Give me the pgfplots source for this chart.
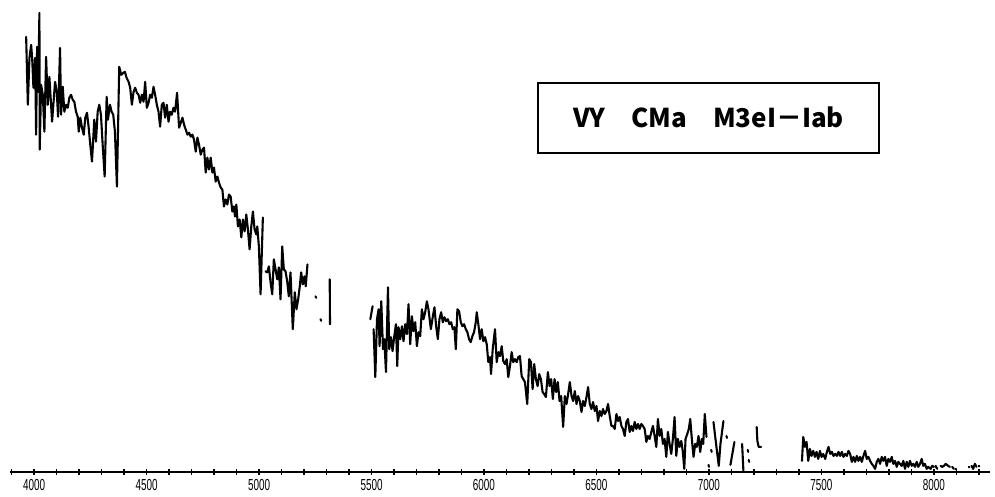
\documentclass[border=0pt]{standalone}
\usepackage{pgfplots}
\pgfplotsset{compat=1.18}
\usepackage{fontspec}
\setmainfont{Liberation Sans}
\newfontfamily\jp{Noto Sans CJK JP}
\begin{document}
\begin{tikzpicture}
\begin{axis}[
  scale only axis, width=497.5pt, height=245.5pt,
  xmin=3853.6, xmax=8266.5, ymin=-18, ymax=473,
  axis x line=middle, axis y line=none,
  x axis line style={-, line width=1.2pt, shorten <=4.5pt, shorten >=2pt},
  xtick={4000,4500,...,8000},
  minor xtick={3900,4000,...,8200},
  tick align=center,
  major tick length=3pt, minor tick length=3pt,
  every tick/.style={black, line width=0.7pt},
  /pgf/number format/assume math mode=true,
  /pgf/number format/1000 sep={},
  xticklabel style={font=\fontsize{8}{8}\selectfont, xscale=0.62, yshift=1.5pt},
  x filter/.expression={4000+(x-33)*4.435},
  y filter/.expression={473-y},
  clip=false,
  spec/.style={black, mark=none, line width=1.05pt, line join=round, line cap=round},
]
% segment A
\addplot[spec] coordinates {(25,37)(26.7,105)(28.3,58)(30,45)(31,58)(32.3,88)(34,58)(35,135)(36,47)(37,92)(38.3,13)(38.6,150)(40,85)(41.7,95)(43.3,132)(45,57)(46.7,105)(48.3,77)(51,122)(54,82)(55.7,92)(57,117)(59,48)(60,115)(61.7,87)(63.3,112)(65,105)(66.7,108)(68.3,98)(70,95)(71.7,100)(73.3,102)(75,112)(76.7,117)(77.7,132)(79.3,118)(81,128)(82.7,135)(84.3,118)(86,113)(87.7,128)(89,142)(91,162)(93.3,120)(95,142)(96.7,112)(98.3,105)(100,115)(101.7,145)(103.7,177)(105.7,97)(107,120)(109,105)(110.7,112)(112.3,115)(114,132)(116,187)(118.3,67)(120.3,75)(122.3,73)(124,72)(125.7,78)(127.7,82)(129.3,88)(131,105)(132.7,92)(134.3,88)(136,93)(137.7,95)(139.3,103)(141,95)(142.7,102)(144.3,82)(146,108)(147.7,103)(149.3,95)(151,98)(152.7,87)(154.3,95)(156,105)(157.7,112)(159.3,127)(161,105)(162.7,103)(164.3,118)(166,105)(167.7,122)(169.3,112)(171,115)(172.7,108)(174.3,112)(176.3,93)(178.3,128)(180,123)(181.7,118)(183.3,125)(185,130)(186.7,135)(188.3,133)(190,137)(191.7,135)(193.3,140)(195,152)(196.7,138)(198.3,145)(200,155)(201.7,150)(203.3,148)(205,173)(206.7,158)(208.3,170)(210,158)(211.7,173)(213.3,168)(215,182)(216.7,177)(218.3,183)(220,188)(221.7,190)(223.3,207)(225,200)(226.7,205)(228.3,195)(230,197)(231.7,212)(233.3,207)(234.3,217)(235.7,205)(237.3,227)(239,220)(240.7,238)(242.3,220)(244,232)(245.7,215)(247.3,230)(249,250)(250.7,227)(252.3,212)(254,230)(255.7,235)(256.7,227)(258.3,247)(260,295)(262.3,218)};
% segment B
\addplot[spec] coordinates {(265,272)(266.7,273)(268.3,267)(270,283)(271.7,295)(273.3,260)(275,270)(276.7,280)(278.3,268)(280,300)(281.7,247)(283.3,270)(285,272)(286.7,282)(288.3,297)(290,273)(292.3,330)(294.3,293)(296,310)(297.7,300)(299.3,287)(300.7,273)(302.3,285)(304,277)(305.3,287)(307,265)};
\addplot[spec] coordinates {(315,297)(315.8,298.5)};
\addplot[spec] coordinates {(320,320)(320.8,321.5)};
\addplot[spec] coordinates {(329.3,280)(329.6,325)};
\addplot[spec] coordinates {(370,320)(372.3,307)};
% segment E
\addplot[spec] coordinates {(373.3,330)(375,378)(376.7,320)(378.3,310)(379.3,347)(381,302)(382.7,350)(384,340)(385.7,373)(387.7,288)(389,350)(390.7,338)(392.3,352)(394,337)(395.7,325)(397,367)(398.3,328)(400,340)(401.7,327)(403.3,342)(405,325)(406.7,335)(408.3,305)(410,345)(411.7,317)(413.3,332)(415,323)(416.7,347)(418.3,333)(420,337)(421.7,310)(423.3,320)(425,313)(426.7,302)(428.3,310)(430.7,330)(432.7,317)(434.3,308)(436,327)(437.7,340)(439.3,320)(441,313)(442.7,323)(444.3,318)(446,322)(447.7,320)(449.3,325)(451,323)(452.7,330)(454.3,328)(455.7,350)(457.3,310)(459,312)(460.7,323)(462.3,327)(464,325)(465.7,330)(467.3,333)(469,340)(470.7,343)(472.3,337)(474,333)(475.7,323)(476.7,313)(478.3,325)(480,340)(481.7,330)(483.3,342)(485,338)(486.7,345)(488.3,363)(490,358)(491,375)(492.7,350)(495,330)(496.7,363)(498.3,353)(500,357)(501.7,347)(503.3,362)(505,365)(506.7,360)(508.3,378)(510,367)(511.7,353)(513.3,363)(515,360)(516.7,363)(518.3,358)(520,357)(521.7,377)(523.3,380)(525,383)(527.3,405)(529.3,360)(531,363)(532.7,390)(534.3,365)(536,380)(537.7,387)(539.3,375)(541,380)(542.7,393)(544.3,395)(546,398)(548,373)(549.7,387)(551.3,380)(553,400)(554.7,380)(556.3,393)(558,383)(559.7,402)(561.3,397)(563.3,428)(565,397)(566.7,405)(568.3,395)(570,383)(571.7,397)(573.3,402)(575,392)(576.7,405)(578.3,397)(580,402)(581.7,413)(583.3,402)(585,407)(586.7,398)(588.3,388)(590,405)(591.7,410)(593.3,403)(595,412)(596.7,407)(598.3,422)(600,412)(601.7,417)(603.3,410)(605,415)(606.7,412)(608.3,405)(610,417)(611.7,427)(613.3,427)(615,430)(616.7,415)(618.3,422)(620,418)(621.7,427)(623.3,430)(625,437)(626.7,423)(628.3,420)(630,433)(631.7,427)(633.3,432)(635,423)(636.7,430)(638.3,425)(640,430)(641.7,425)(643.3,427)(645,430)(646.7,443)(648.3,437)(650,440)(651.7,433)(653.3,427)(655,437)(656.7,448)(658.3,420)(660,437)(661.7,430)(663.3,445)(665,440)(666.7,458)(668.3,433)(670,445)(671.7,455)(673.3,440)(675,418)(676.7,457)(678.3,440)(680,448)(681.7,442)(683.3,453)(684.7,470)(686,440)(687.7,435)(689.3,430)(690.7,420)(692.3,440)(694,458)(695.7,445)(697.3,448)(699,437)(700.7,453)(702.3,440)(703.7,445)(705.3,415)(707,438)};
\addplot[spec] coordinates {(709,466)(709.5,468)};
\addplot[spec] coordinates {(711.7,451)(712.2,453)};
\addplot[spec] coordinates {(714,423)(716,440)(719.3,467)(721,445)(724,422)};
\addplot[spec] coordinates {(727,437)(727.5,439)};
\addplot[spec] coordinates {(731,466)(735,443)};
\addplot[spec] coordinates {(742.7,445)(744,472)};
\addplot[spec] coordinates {(748.3,451)(748.8,453)};
\addplot[spec] coordinates {(749.3,461)(749.8,463)};
\addplot[spec] coordinates {(757.3,428)(758,442)(759.3,448)(761.7,448)};
% segment J
\addplot[spec] coordinates {(802.7,462)(804,438)(805.7,448)(807.3,443)(809,462)(810.7,450)(812.3,457)(814,452)(815.7,458)(817.3,453)(819,460)(820.7,452)(822.3,458)(824,455)(826,460)(827.7,453)(829.3,448)(831,455)(832.7,453)(834.3,457)(836,455)(837.7,457)(839.3,453)(841,457)(842.7,453)(844.3,458)(846,455)(847.7,457)(849.3,452)(851,455)(852.7,463)(854.3,458)(856,463)(857.7,457)(859.3,462)(861,458)(862.7,463)(864.3,457)(866,452)(867.7,460)(869.3,458)(871,462)(872.7,465)(874.3,467)(876,470)(877.7,463)(879.3,460)(881,465)(882.7,458)(884.3,462)(886,458)(887.7,467)(889.3,460)(891,463)(892.7,458)(894.3,465)(896,462)(897.7,468)(899.3,463)(901,465)(902.7,467)(904.3,462)(906,470)(907.7,463)(909.3,468)(911,462)(912.7,467)(914.3,465)(916,468)(917.7,463)(919.3,468)(921,465)(922.7,460)(924.3,467)(926,465)(927.7,470)(929.3,468)(931.7,470)(933.3,467)(935,468)};
\addplot[spec] coordinates {(936.7,467)(938.3,470)};
\addplot[spec] coordinates {(941.7,467)(943.3,468)(945,467)(946.7,465)(949.3,467)(951,468)};
\addplot[spec] coordinates {(953.3,468)(955,470)};
\addplot[spec] coordinates {(956.7,470)(957.2,470.5)};
\addplot[spec] coordinates {(970,468)(970.5,468.5)};
\addplot[spec] coordinates {(972.7,467)(974.3,470)(976,465)(977.7,468)};
\addplot[spec] coordinates {(980,467)(980.5,467.5)};
\draw[draw=none] (rel axis cs:0,0) rectangle (rel axis cs:1,1);
\node[draw=black, line width=0.9pt, minimum width=171pt, minimum height=35pt, inner sep=0pt, font=\jp\bfseries\fontsize{13}{13}\selectfont]
  at (rel axis cs:0.7126,0.7597) {VY　CMa　M3eI－Iab};
\end{axis}
\end{tikzpicture}
\end{document}
